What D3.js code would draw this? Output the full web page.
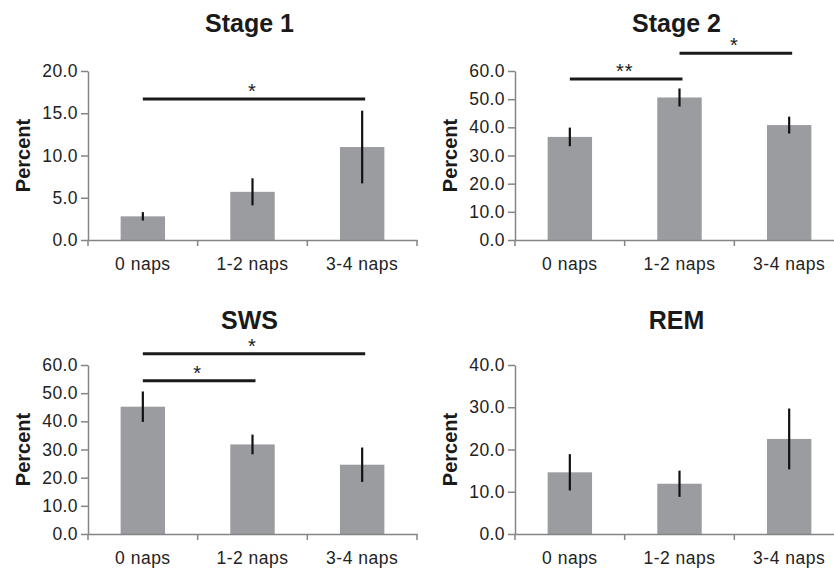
<!DOCTYPE html>
<meta charset="utf-8">
<style>
    body { margin: 0; background: #fff; }
    svg { display: block; font-family: "Liberation Sans", Arial, sans-serif; }
</style>
<svg width="834" height="568"></svg>
<script src="https://cdn.jsdelivr.net/npm/d3@7"></script>
<script>

    var categories = ["0 naps", "1-2 naps", "3-4 naps"];
    var titles = ["Stage 1", "Stage 2", "SWS", "REM"];

    var stage1 = [2.8, 5.7, 11.0], stage1Err = [0.5, 1.6, 4.3];
    var stage2 = [36.6, 50.6, 40.8], stage2Err = [3.3, 3.2, 3.0];
    var sws = [45.2, 31.8, 24.6], swsErr = [5.4, 3.5, 6.1];
    var rem = [14.6, 11.9, 22.5], remErr = [4.3, 3.1, 7.2];

    var yMax = [20, 60, 60, 40];
    var yStep = [5, 10, 10, 10];

    // significance bars: [from, to, level (percent), label]
    var stage1Sig = [[0, 2, 16.7, "*"]];
    var stage2Sig = [[0, 1, 57.2, "**"], [1, 2, 66.3, "*"]];
    var swsSig = [[0, 2, 64.0, "*"], [0, 1, 54.4, "*"]];
    var remSig = [];

    var means = [stage1, stage2, sws, rem];
    var errs = [stage1Err, stage2Err, swsErr, remErr];
    var sigs = [stage1Sig, stage2Sig, swsSig, remSig];

    var svg = d3.select("svg");
    var axisColor = "#858585";

    var lefts = [88, 515, 88, 515],
        tops = [71, 71, 365, 365],
        plotW = 329,
        plotH = 169;

    titles.forEach(function (title, p) {
        var g = svg.append("g").attr("transform", "translate(" + lefts[p] + "," + tops[p] + ")");

        var x = d3.scaleBand()
            .domain(categories)
            .range([0, plotW])
            .paddingInner(0.595)
            .paddingOuter(0.2975);

        var y = d3.scaleLinear()
            .domain([0, yMax[p]])
            .range([plotH, 0]);

        // bars
        g.selectAll("rect.bar")
            .data(means[p])
            .enter().append("rect")
            .attr("class", "bar")
            .attr("x", function (d, i) { return x(categories[i]); })
            .attr("width", x.bandwidth())
            .attr("y", function (d) { return y(d); })
            .attr("height", function (d) { return plotH - y(d); })
            .attr("fill", "#9b9ca0");

        // error bars
        g.selectAll("line.err")
            .data(means[p])
            .enter().append("line")
            .attr("class", "err")
            .attr("x1", function (d, i) { return x(categories[i]) + x.bandwidth() / 2; })
            .attr("x2", function (d, i) { return x(categories[i]) + x.bandwidth() / 2; })
            .attr("y1", function (d, i) { return y(d + errs[p][i]); })
            .attr("y2", function (d, i) { return y(d - errs[p][i]); })
            .attr("stroke", "#111")
            .attr("stroke-width", 2.2);

        // y axis
        var yAxis = g.append("g")
            .call(d3.axisLeft(y)
                .tickValues(d3.range(0, yMax[p] + 0.001, yStep[p]))
                .tickFormat(d3.format(".1f"))
                .tickSize(7)
                .tickSizeOuter(0)
                .tickPadding(3));
        yAxis.select(".domain").attr("stroke", axisColor).attr("stroke-width", 1.5);
        yAxis.selectAll(".tick line").attr("stroke", axisColor).attr("stroke-width", 1.5);
        yAxis.selectAll("text")
            .attr("fill", "#222")
            .attr("font-size", 17.5)
            .attr("letter-spacing", 0.4);

        // x axis
        var xAxis = g.append("g")
            .attr("transform", "translate(0," + plotH + ")")
            .call(d3.axisBottom(x).tickSize(0).tickSizeOuter(0).tickPadding(18));
        xAxis.select(".domain").attr("stroke", axisColor).attr("stroke-width", 1.5);
        xAxis.selectAll("text")
            .attr("fill", "#222")
            .attr("font-size", 17.5)
            .attr("letter-spacing", 0.5);

        // tick marks between categories
        xAxis.selectAll("line.sep")
            .data(d3.range(categories.length + 1))
            .enter().append("line")
            .attr("class", "sep")
            .attr("x1", function (i) { return i * x.step(); })
            .attr("x2", function (i) { return i * x.step(); })
            .attr("y1", 0)
            .attr("y2", 6)
            .attr("stroke", axisColor)
            .attr("stroke-width", 1.5);

        // y label
        g.append("text")
            .attr("transform", "translate(-65," + plotH / 2 + ")rotate(-90)")
            .attr("text-anchor", "middle")
            .attr("dy", "0.35em")
            .attr("font-size", 20)
            .attr("font-weight", "bold")
            .attr("fill", "#1a1a1a")
            .text("Percent");

        // title
        g.append("text")
            .attr("x", plotW / 2 - 3)
            .attr("y", p < 2 ? -39 : -36)
            .attr("text-anchor", "middle")
            .attr("font-size", 25)
            .attr("font-weight", "bold")
            .attr("fill", "#1a1a1a")
            .text(title);

        // significance
        var sig = g.selectAll("g.sig")
            .data(sigs[p])
            .enter().append("g")
            .attr("class", "sig");

        sig.append("line")
            .attr("x1", function (d) { return x(categories[d[0]]) + x.bandwidth() / 2; })
            .attr("x2", function (d) { return x(categories[d[1]]) + x.bandwidth() / 2 + 3; })
            .attr("y1", function (d) { return y(d[2]); })
            .attr("y2", function (d) { return y(d[2]); })
            .attr("stroke", "#1a1a1a")
            .attr("stroke-width", 3);

        sig.append("text")
            .attr("x", function (d) { return (x(categories[d[0]]) + x(categories[d[1]]) + x.bandwidth()) / 2; })
            .attr("y", function (d) { return y(d[2]) - 1; })
            .attr("text-anchor", "middle")
            .attr("font-size", 20)
            .attr("letter-spacing", 1)
            .attr("fill", "#1a1a1a")
            .text(function (d) { return d[3]; });
    });
</script>
